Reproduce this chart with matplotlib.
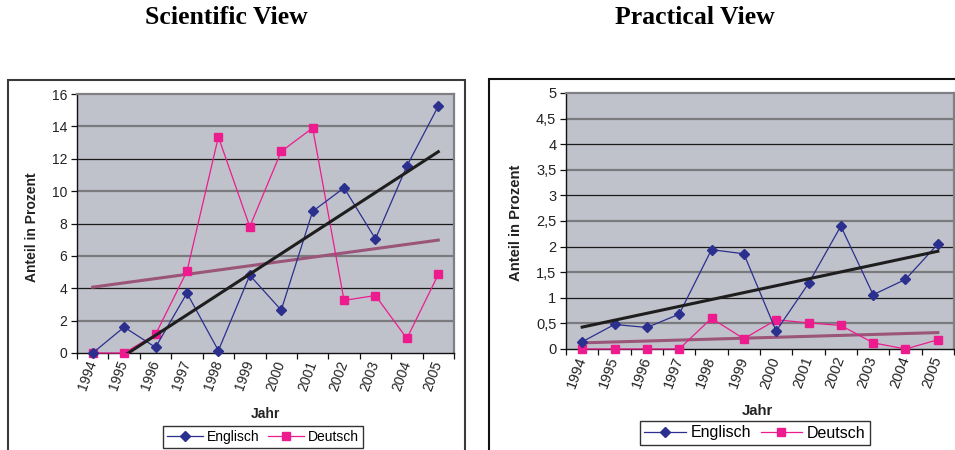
import numpy as np
import matplotlib
matplotlib.use("Agg")
import matplotlib.pyplot as plt
from matplotlib.patches import Rectangle
from matplotlib.ticker import FixedLocator, FuncFormatter

# Publication share of English vs. German papers per year
years = ["1994", "1995", "1996", "1997", "1998", "1999",
         "2000", "2001", "2002", "2003", "2004", "2005"]

sci_englisch = [0.0, 1.6, 0.35, 3.7, 0.15, 4.8, 2.65, 8.75, 10.2, 7.05, 11.55, 15.25]
sci_deutsch = [0.0, 0.0, 1.15, 5.05, 13.35, 7.8, 12.45, 13.9, 3.25, 3.55, 0.9, 4.85]

prac_englisch = [0.14, 0.48, 0.42, 0.68, 1.94, 1.86, 0.35, 1.28, 2.40, 1.06, 1.36, 2.05]
prac_deutsch = [0.0, 0.0, 0.0, 0.0, 0.60, 0.20, 0.57, 0.51, 0.46, 0.12, 0.0, 0.18]

sci_yticks = [0, 2, 4, 6, 8, 10, 12, 14, 16]
prac_yticks = [0, 0.5, 1, 1.5, 2, 2.5, 3, 3.5, 4, 4.5, 5]

C_EN = "#2B2F8E"
C_DE = "#EC1C8E"
C_TREND_EN = "#1E1E1E"
C_TREND_DE = "#9A5578"
BG = "#C0C2CB"

plt.rcParams["font.family"] = ["Liberation Sans", "DejaVu Sans"]

W, H = 955, 450
fig = plt.figure(figsize=(W / 100, H / 100), dpi=100)


def px_rect(x0, y0, x1, y1):
    return [x0 / W, 1 - y1 / H, (x1 - x0) / W, (y1 - y0) / H]


def comma_fmt(v, pos):
    return ("%g" % v).replace(".", ",")


def draw_panel(rect, en, de, yticks, fs, legend_center, legend_fs):
    ax = fig.add_axes(rect)
    ax.set_facecolor(BG)
    x = np.arange(len(years))

    # horizontal gridlines, alternating grey / thin black
    for i, yv in enumerate(yticks[1:-1]):
        if i % 2 == 0:
            ax.axhline(yv, color="#7A7A7E", lw=1.6, zorder=1)
        else:
            ax.axhline(yv, color="#1A1A1A", lw=0.9, zorder=1)

    l_en, = ax.plot(x, en, color=C_EN, lw=0.9, marker="D", ms=5.5,
                    mfc=C_EN, mec=C_EN, clip_on=False, zorder=4, label="Englisch")
    l_de, = ax.plot(x, de, color=C_DE, lw=0.9, marker="s", ms=5.8,
                    mfc=C_DE, mec=C_DE, clip_on=False, zorder=3, label="Deutsch")

    # linear trendlines
    k_en, d_en = np.polyfit(x, en, 1)
    k_de, d_de = np.polyfit(x, de, 1)
    ax.plot(x, k_en * x + d_en, color=C_TREND_EN, lw=2.2, zorder=5)
    ax.plot(x, k_de * x + d_de, color=C_TREND_DE, lw=2.2, zorder=2)

    ax.set_xlim(-0.5, len(years) - 0.5)
    ax.set_ylim(yticks[0], yticks[-1])

    ax.xaxis.set_major_locator(FixedLocator(np.arange(len(years) + 1) - 0.5))
    ax.xaxis.set_major_formatter(FuncFormatter(lambda v, p: ""))
    ax.xaxis.set_minor_locator(FixedLocator(x))
    ax.set_xticklabels(years, minor=True, rotation=70, ha="right",
                       va="center", rotation_mode="anchor", fontsize=fs,
                       color="#222222")
    ax.tick_params(axis="x", which="minor", length=0, pad=6)
    ax.tick_params(axis="x", which="major", length=4, width=0.9,
                   direction="out", color="#111111")

    ax.set_yticks(yticks)
    ax.yaxis.set_major_formatter(FuncFormatter(comma_fmt))
    ax.tick_params(axis="y", length=4, width=0.9, direction="out",
                   labelsize=fs, labelcolor="#222222", color="#111111", pad=3)

    for s in ("top", "right"):
        ax.spines[s].set_color("#808084")
        ax.spines[s].set_linewidth(1.6)
    for s in ("left", "bottom"):
        ax.spines[s].set_color("#111111")
        ax.spines[s].set_linewidth(1.0)

    leg = fig.legend(handles=[l_en, l_de], loc="center", ncol=2,
                     bbox_to_anchor=(legend_center[0] / W, 1 - legend_center[1] / H),
                     bbox_transform=fig.transFigure, fontsize=legend_fs,
                     frameon=True, fancybox=False, handlelength=2.6,
                     handletextpad=0.3, columnspacing=0.6, borderpad=0.3,
                     borderaxespad=0)
    leg.get_frame().set_edgecolor("#000000")
    leg.get_frame().set_linewidth(1.0)
    return ax


# outer chart frames (continue below the visible area)
fig.patches.append(Rectangle((8 / W, -0.05), (465 - 8) / W, 1 - 80 / H + 0.05,
                             transform=fig.transFigure, fill=False,
                             edgecolor="#3A3A3A", lw=1.5))
fig.patches.append(Rectangle((489 / W, -0.05), (970 - 489) / W, 1 - 79 / H + 0.05,
                             transform=fig.transFigure, fill=False,
                             edgecolor="#111111", lw=1.5))

draw_panel(px_rect(77, 94, 454, 353), sci_englisch, sci_deutsch, sci_yticks,
           10, (263, 437), 10)
draw_panel(px_rect(566, 93, 954, 349), prac_englisch, prac_deutsch, prac_yticks,
           10.5, (755, 433), 11.5)

# titles
fig.text(226 / W, 1 - 18 / H, "Scientific View", ha="center", va="center",
         fontsize=18.5, fontweight="bold", family=["Liberation Serif", "DejaVu Serif"])
fig.text(695 / W, 1 - 18 / H, "Practical View", ha="center", va="center",
         fontsize=18.5, fontweight="bold", family=["Liberation Serif", "DejaVu Serif"])

# axis titles
fig.text(32 / W, 1 - 227 / H, "Anteil in Prozent", rotation=90, ha="center",
         va="center", fontsize=10, fontweight="bold", color="#222222")
fig.text(516 / W, 1 - 223 / H, "Anteil in Prozent", rotation=90, ha="center",
         va="center", fontsize=10.7, fontweight="bold", color="#222222")
fig.text(265 / W, 1 - 414 / H, "Jahr", ha="center", va="center",
         fontsize=10, fontweight="bold", color="#222222")
fig.text(757 / W, 1 - 411 / H, "Jahr", ha="center", va="center",
         fontsize=10.7, fontweight="bold", color="#222222")

fig.savefig("out.png", dpi=100, facecolor="white")
